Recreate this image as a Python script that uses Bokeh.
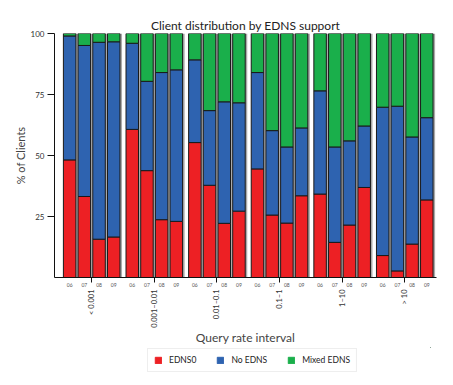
import math
from bokeh.plotting import figure
from bokeh.layouts import column
from bokeh.models import (LinearAxis, FixedTicker, Range1d, Legend, LegendItem, ColumnDataSource)
from bokeh.embed import file_html
from bokeh.resources import INLINE

# ---- data ----
groups = ["< 0.001", "0.001\u20130.01", "0.01\u20130.1", "0.1\u20131", "1\u201310", "> 10"]
years = ["06", "07", "08", "09"]
edns0 = [48.2, 33.2, 15.7, 16.6,
         60.7, 43.8, 23.7, 23.0,
         55.3, 37.8, 22.2, 27.2,
         44.5, 25.6, 22.3, 33.5,
         34.2, 14.4, 21.5, 36.9,
         9.0, 2.7, 13.7, 31.8]
no_edns = [50.8, 61.9, 80.7, 80.0,
           35.3, 36.6, 60.3, 62.1,
           33.9, 30.6, 49.8, 44.4,
           39.5, 34.6, 31.2, 27.8,
           42.3, 39.1, 34.5, 25.2,
           60.8, 67.5, 43.9, 33.7]
mixed_edns = [1.0, 4.9, 3.6, 3.4,
              4.0, 19.6, 16.0, 14.9,
              10.8, 31.6, 28.0, 28.4,
              16.0, 39.8, 46.5, 38.7,
              23.5, 46.5, 44.0, 37.9,
              30.2, 29.8, 42.4, 34.5]
series = ["EDNS0", "No EDNS", "Mixed EDNS"]
colors = ["#ED2024", "#2E63B0", "#1AAF4B"]

# ---- layout of positions (integer units) ----
BAR_PITCH = 100
GROUP_PITCH = 426
xs = [g * GROUP_PITCH + i * BAR_PITCH for g in range(len(groups)) for i in range(len(years))]
centers = [g * GROUP_PITCH + 150 for g in range(len(groups))]
shadow_x = [x + 14 for x in xs]

src = ColumnDataSource(dict(x=xs, sx=shadow_x, EDNS0=edns0, NoEDNS=no_edns, Mixed=mixed_edns,
                            full=[a + b + c for a, b, c in zip(edns0, no_edns, mixed_edns)]))

FONT = "Lato"

p = figure(frame_width=382, frame_height=244, output_backend="svg", toolbar_location=None,
           x_range=Range1d(-103, 2496), y_range=Range1d(0, 100),
           min_border_left=0, min_border_right=6, min_border_top=0, min_border_bottom=0,
           title="Client distribution by EDNS support")
p.margin = (15, 0, 0, 10)
p.background_fill_color = "white"
p.border_fill_color = "white"
p.outline_line_color = None
p.grid.visible = False

p.title.align = "center"
p.title.text_font = FONT
p.title.text_font_size = "12px"
p.title.text_font_style = "normal"
p.title.text_color = "#222222"
p.title.standoff = 1

# shadows
p.vbar(x="sx", top="full", bottom=0, width=85, source=src, fill_color="#aaaaaa", line_color=None)
# stacked bars
p.vbar_stack(["EDNS0", "NoEDNS", "Mixed"], x="x", width=85, source=src,
             fill_color=colors, line_color="#1a1a1a", line_width=1)

# y axis
p.yaxis.ticker = FixedTicker(ticks=[25, 50, 75, 100])
p.yaxis.minor_tick_line_color = None
p.yaxis.major_tick_out = 7
p.yaxis.major_tick_in = 0
p.yaxis.major_label_standoff = 3
p.yaxis.major_label_text_font = FONT
p.yaxis.major_label_text_font_size = "8px"
p.yaxis.major_label_text_color = "#333333"
p.yaxis.axis_label = "% of Clients"
p.yaxis.axis_label_text_font = FONT
p.yaxis.axis_label_text_font_size = "11px"
p.yaxis.axis_label_text_font_style = "normal"
p.yaxis.axis_label_standoff = 1
p.yaxis.axis_line_color = "#111111"
p.yaxis.major_tick_line_color = "#111111"

# x axis A: years
xa = p.xaxis[0]
xa.ticker = FixedTicker(ticks=xs, minor_ticks=centers)
xa.major_label_overrides = {x: years[k % 4] for k, x in enumerate(xs)}
xa.major_tick_line_color = None
xa.major_tick_out = 0
xa.major_tick_in = 0
xa.minor_tick_out = 5
xa.minor_tick_in = 0
xa.minor_tick_line_color = "#111111"
xa.major_label_standoff = 0
xa.major_label_text_font = FONT
xa.major_label_text_font_size = "5px"
xa.major_label_text_color = "#555555"
xa.axis_line_color = "#111111"

# x axis B: groups
xb = LinearAxis(ticker=FixedTicker(ticks=centers),
                major_label_overrides={c: g for c, g in zip(centers, groups)},
                major_label_orientation=math.pi / 2)
xb.axis_line_color = None
xb.major_tick_line_color = None
xb.minor_tick_line_color = None
xb.major_tick_out = 0
xb.major_tick_in = 0
xb.major_label_standoff = 0
xb.major_label_text_font = FONT
xb.major_label_text_font_size = "7.5px"
xb.major_label_text_color = "#333333"
xb.axis_label = "Query rate interval"
xb.axis_label_text_font = FONT
xb.axis_label_text_font_size = "12px"
xb.axis_label_text_font_style = "normal"
xb.axis_label_standoff = -1
p.add_layout(xb, "below")

# legend in its own strip below the chart (swatch renderers sit outside the strip's visible range)
lg = figure(width=406, height=26, output_backend="svg", toolbar_location=None,
            x_range=Range1d(0, 1), y_range=Range1d(0, 1),
            x_axis_location=None, y_axis_location=None, min_border=0)
lg.margin = (0, 0, 0, 30)
lg.grid.visible = False
lg.outline_line_color = None
lg.background_fill_color = "white"
lg.border_fill_color = "white"
swatches = [lg.vbar(x=[5], top=[5], bottom=[4], width=0.1, fill_color=c, line_color=c) for c in colors]
legend = Legend(items=[LegendItem(label=s, renderers=[r]) for s, r in zip(series, swatches)],
                orientation="horizontal", location="center")
legend.glyph_width = 8
legend.glyph_height = 8
legend.label_standoff = 7
legend.spacing = 20
legend.padding = 6
legend.margin = 0
legend.label_text_font = FONT
legend.label_text_font_size = "8.5px"
legend.label_text_color = "#222222"
legend.border_line_color = "#dddddd"
legend.border_line_width = 1
lg.add_layout(legend, "center")

layout = column(p, lg, spacing=0)
open("out.html", "w").write(file_html(layout, INLINE))
